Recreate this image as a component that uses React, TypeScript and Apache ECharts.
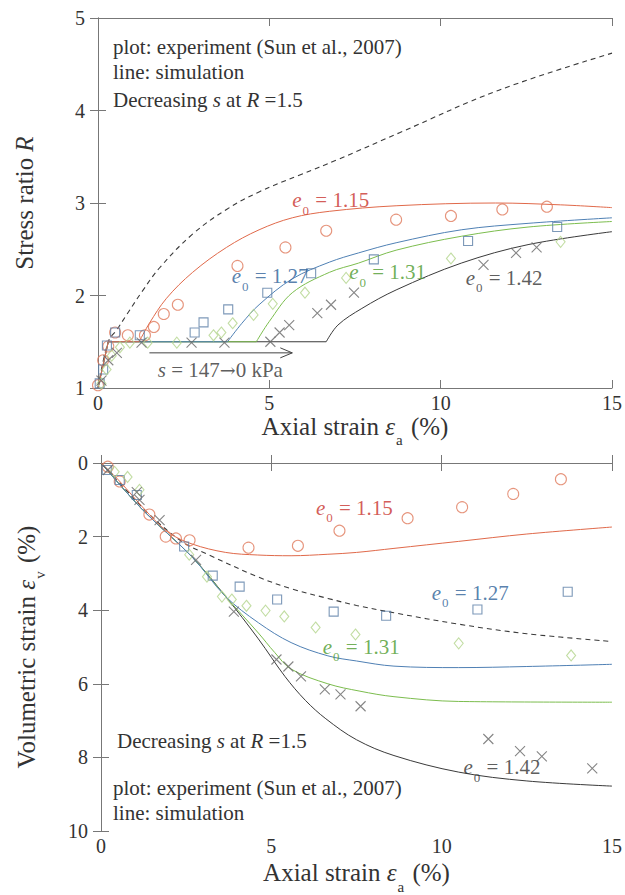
import React, { useEffect, useRef } from 'react';
import * as echarts from 'echarts';

const FONT = '"Liberation Serif", "Times New Roman", serif';
const TXT = '#333333';
const AXIS = '#777777';

const RED = '#e0694a';
const RED_MK = '#e07b5c';
const RED_TX = '#c8322c';
const BLUE = '#4f80b4';
const BLUE_MK = '#5b7ea6';
const BLUE_TX = '#2e5f98';
const GREEN = '#7cbd4e';
const GREEN_MK = '#b3d58c';
const GREEN_TX = '#4c9a2c';
const BLACK = '#3a3a3a';
const BLACK_MK = '#666666';

// ---------- Top chart: stress ratio R vs axial strain ----------
const rSimDashed = [[0, 1], [0.3, 1.5], [0.55, 1.63], [0.85, 1.8], [1.3, 2.05], [1.8, 2.3], [2.75, 2.66], [3.75, 2.93], [4.7, 3.12], [5.87, 3.3], [7.0, 3.47], [8.8, 3.76], [11.7, 4.22], [15, 4.62]];
// simulations: loading to R=1.5, suction decrease at constant R (flat), then shearing (rise)
const rSim115Flat = [[0, 1], [0.3, 1.5], [1.2, 1.5]];
const rSim115Rise = [[1.2, 1.5], [1.5, 1.7], [2.0, 1.97], [2.76, 2.25], [3.75, 2.52], [4.7, 2.71], [5.67, 2.84], [6.75, 2.91], [8.7, 2.97], [11.6, 3.0], [13.5, 2.98], [15, 2.95]];
const rSim127Flat = [[0, 1], [0.3, 1.5], [3.78, 1.5]];
const rSim127Rise = [[3.78, 1.5], [4.2, 1.7], [4.7, 1.9], [5.67, 2.18], [6.75, 2.36], [7.6, 2.46], [8.7, 2.57], [10.6, 2.71], [12.55, 2.78], [15, 2.84]];
const rSim131Flat = [[0, 1], [0.3, 1.5], [4.62, 1.5]];
const rSim131Rise = [[4.62, 1.5], [5.0, 1.72], [5.67, 2.03], [6.75, 2.25], [7.6, 2.35], [8.7, 2.49], [10.6, 2.64], [12.55, 2.74], [15, 2.8]];
const rSim142Flat = [[0, 1], [0.3, 1.5], [6.66, 1.5]];
const rSim142Rise = [[6.66, 1.5], [7.0, 1.68], [7.7, 1.86], [8.7, 2.06], [10.6, 2.35], [12.55, 2.55], [15, 2.69]];

const rExp115 = [[0, 1.03], [0.15, 1.3], [0.3, 1.45], [0.5, 1.6], [0.87, 1.57], [1.37, 1.57], [1.63, 1.66], [1.92, 1.8], [2.33, 1.9], [4.07, 2.32], [5.47, 2.52], [6.66, 2.7], [8.7, 2.82], [10.3, 2.86], [11.8, 2.93], [13.1, 2.96]];
const rExp127 = [[0.05, 1.05], [0.15, 1.2], [0.26, 1.46], [0.5, 1.6], [1.22, 1.57], [2.82, 1.6], [3.08, 1.71], [3.8, 1.85], [4.94, 2.03], [6.22, 2.24], [8.05, 2.39], [10.8, 2.59], [13.4, 2.74]];
const rExp131 = [[0.1, 1.05], [0.25, 1.2], [0.4, 1.35], [0.64, 1.44], [0.93, 1.49], [1.45, 1.49], [2.3, 1.49], [3.37, 1.57], [3.6, 1.6], [3.93, 1.7], [4.54, 1.79], [5.1, 1.91], [6.04, 2.03], [7.24, 2.19], [10.3, 2.4], [13.5, 2.58]];
const rExp142 = [[0.1, 1.08], [0.3, 1.3], [0.55, 1.38], [1.27, 1.49], [2.73, 1.49], [3.69, 1.49], [5.03, 1.5], [5.3, 1.6], [5.58, 1.68], [6.4, 1.81], [6.8, 1.9], [7.47, 2.03], [11.25, 2.33], [12.2, 2.46], [12.8, 2.52]];

// ---------- Bottom chart: volumetric strain vs axial strain ----------
const vSimDashed = [[0, 0], [0.7, 0.7], [1.42, 1.4], [2.4, 2.15], [3.17, 2.5], [4.62, 3.1], [5.6, 3.42], [6.66, 3.68], [7.5, 3.87], [8.6, 4.07], [10.5, 4.38], [12.5, 4.64], [15, 4.85]];
const vSim115 = [[0, 0], [0.5, 0.45], [1.42, 1.4], [2.0, 1.9], [2.67, 2.2], [3.66, 2.43], [4.6, 2.5], [5.58, 2.52], [6.66, 2.48], [7.5, 2.43], [8.6, 2.32], [10.5, 2.13], [12.5, 1.93], [15, 1.74]];
const vSim127 = [[0, 0], [1.22, 1.27], [2.67, 2.55], [3.66, 3.63], [4.62, 4.34], [5.58, 4.88], [6.66, 5.24], [7.5, 5.38], [8.6, 5.52], [10.5, 5.56], [12.5, 5.53], [15, 5.47]];
const vSim131 = [[0, 0], [1.22, 1.27], [2.67, 2.55], [3.66, 3.63], [4.62, 4.62], [5.1, 5.15], [5.58, 5.6], [6.66, 6.0], [7.6, 6.2], [8.6, 6.35], [10.5, 6.48], [15, 6.5]];
const vSim142 = [[0, 0], [1.22, 1.27], [2.67, 2.55], [3.66, 3.63], [4.62, 4.78], [5.4, 5.8], [6.0, 6.45], [6.6, 6.95], [7.5, 7.52], [8.6, 7.95], [10.5, 8.4], [12.5, 8.64], [15, 8.78]];

const vExp115 = [[0.2, 0.1], [0.55, 0.5], [1.42, 1.4], [1.9, 2.0], [2.2, 2.05], [2.6, 2.1], [4.33, 2.3], [5.78, 2.25], [7.0, 1.84], [9.0, 1.5], [10.6, 1.2], [12.1, 0.84], [13.5, 0.44]];
const vExp127 = [[0.17, 0.19], [0.55, 0.46], [1.05, 0.87], [2.44, 2.27], [3.28, 3.06], [4.07, 3.36], [5.17, 3.71], [6.83, 4.04], [8.37, 4.15], [11.05, 3.98], [13.7, 3.5]];
const vExp131 = [[0.4, 0.24], [0.78, 0.38], [1.13, 0.73], [2.59, 2.49], [3.11, 3.09], [3.55, 3.63], [3.84, 3.71], [4.27, 3.88], [4.83, 4.01], [5.38, 4.17], [6.3, 4.47], [7.47, 4.66], [10.5, 4.9], [13.8, 5.23]];
const vExp142 = [[0.2, 0.19], [1.05, 0.79], [1.13, 1.0], [1.72, 1.55], [2.79, 2.63], [3.9, 4.04], [5.15, 5.34], [5.5, 5.53], [5.87, 5.8], [6.57, 6.15], [7.03, 6.29], [7.62, 6.61], [11.37, 7.5], [12.3, 7.83], [12.94, 7.97], [14.42, 8.3]];

// label anchor points (data coords) and texts
const topLabels = [
  { pos: [5.67, 3.03], text: '1.15', color: RED_TX },
  { pos: [3.9, 2.21], text: '1.27', color: BLUE_TX },
  { pos: [7.33, 2.25], text: '1.31', color: GREEN_TX },
  { pos: [10.73, 2.19], text: '1.42', color: TXT },
];
const bottomLabels = [
  { pos: [6.31, 1.22], text: '1.15', color: RED_TX },
  { pos: [9.71, 3.52], text: '1.27', color: BLUE_TX },
  { pos: [6.51, 4.99], text: '1.31', color: GREEN_TX },
  { pos: [10.64, 8.27], text: '1.42', color: TXT },
];
const arrowFrom = [1.5, 1.38];
const arrowTo = [5.67, 1.38];
const arrowText = [3.57, 1.19];

const xTicks = { min: 0, max: 15, interval: 5 };

const CROSS = 'path://M0,0L10,10M10,0L0,10';

function lineS(data: number[][], color: string, xi: number, yi: number, dashed = false, smooth: any = 0.35) {
  return {
    type: 'line', data, xAxisIndex: xi, yAxisIndex: yi, symbol: 'none', smooth,
    lineStyle: { color, width: dashed ? 1.1 : 1, type: dashed ? [5, 4] : 'solid' }, z: 3, silent: true,
  };
}
function markS(data: number[][], symbol: string, size: any, color: string, xi: number, yi: number) {
  return {
    type: 'scatter', data, xAxisIndex: xi, yAxisIndex: yi, symbol, symbolSize: size,
    itemStyle: { color: 'none', borderColor: color, borderWidth: 1.1 }, z: 4, silent: true,
  };
}
function labelS(items: any[], xi: number, yi: number) {
  return items.map((it) => ({
    type: 'scatter', xAxisIndex: xi, yAxisIndex: yi, symbolSize: 0, silent: true, z: 5,
    data: [it.pos],
    label: {
      show: true, position: 'right', distance: 0,
      formatter: `{e|e}{s|0}{t| = ${it.text}}`,
      rich: {
        e: { fontFamily: FONT, fontStyle: 'italic', fontSize: 21, color: it.color },
        s: { fontFamily: FONT, fontSize: 13, color: it.color, padding: [20, 1, 0, 1] },
        t: { fontFamily: FONT, fontSize: 21, color: it.color },
      },
    },
  }));
}

function xAxis(grid: number, mirror: boolean, gap: number) {
  return {
    type: 'value', gridIndex: grid, position: mirror ? 'top' : 'bottom', ...xTicks,
    axisLine: { show: true, lineStyle: { color: AXIS, width: 1 } },
    axisTick: { show: true, inside: true, length: 8, lineStyle: { color: AXIS } },
    axisLabel: { show: !mirror, margin: 5, fontFamily: FONT, fontSize: 20, color: TXT },
    splitLine: { show: false },
    ...(mirror ? {} : {
      name: 'Axial strain {i|ε}{s|a} (%)', nameLocation: 'middle', nameGap: gap,
      nameTextStyle: {
        fontFamily: FONT, fontSize: 25, color: TXT,
        rich: {
          i: { fontFamily: FONT, fontStyle: 'italic', fontSize: 25, color: TXT },
          s: { fontFamily: FONT, fontSize: 15, color: TXT, padding: [28, 2, 0, 1] },
        },
      },
    }),
  };
}
function yAxis(grid: number, mirror: boolean, extra: any) {
  return {
    type: 'value', gridIndex: grid, position: mirror ? 'right' : 'left',
    axisLine: { show: true, lineStyle: { color: AXIS, width: 1 } },
    axisTick: { show: true, inside: true, length: 8, lineStyle: { color: AXIS } },
    axisLabel: { show: !mirror, margin: 13, fontFamily: FONT, fontSize: 20, color: TXT },
    splitLine: { show: false },
    ...extra,
    ...(mirror ? { name: '' } : {}),
  };
}

const topYName = {
  name: 'Stress ratio {i|R}', nameLocation: 'middle', nameGap: 61,
  nameTextStyle: {
    fontFamily: FONT, fontSize: 25, color: TXT,
    rich: { i: { fontFamily: FONT, fontStyle: 'italic', fontSize: 25, color: TXT } },
  },
};
const botYName = {
  name: 'Volumetric strain {i|ε}{s|v} (%)', nameLocation: 'middle', nameGap: 54,
  nameTextStyle: {
    fontFamily: FONT, fontSize: 25, color: TXT,
    rich: {
      i: { fontFamily: FONT, fontStyle: 'italic', fontSize: 25, color: TXT },
      s: { fontFamily: FONT, fontSize: 15, color: TXT, padding: [26, 2, 0, 1] },
    },
  },
};

const richNote = {
  n: { fontFamily: FONT, fontSize: 21, fill: TXT, color: TXT },
  i: { fontFamily: FONT, fontSize: 21, fontStyle: 'italic', fill: TXT, color: TXT },
};
function note(left: number, top: number, text: string) {
  return { type: 'text', left, top, silent: true, style: { text, rich: richNote, fontFamily: FONT, fontSize: 21, fill: TXT } };
}

export default function App() {
  const ref = useRef<HTMLDivElement>(null);
  useEffect(() => {
    const chart = echarts.init(ref.current!, null, { renderer: 'svg' });
    const topY = { min: 1, max: 5, interval: 1 };
    const botY = { min: 0, max: 10, interval: 2, inverse: true };
    const option: any = {
      animation: false,
      backgroundColor: '#ffffff',
      grid: [
        { left: 98, top: 18, width: 515, height: 370 },
        { left: 101, top: 463, width: 516, height: 369 },
      ],
      xAxis: [xAxis(0, false, 9), xAxis(0, true, 0), xAxis(1, false, 20), xAxis(1, true, 0)],
      yAxis: [
        yAxis(0, false, { ...topY, ...topYName }),
        yAxis(0, true, topY),
        yAxis(1, false, { ...botY, ...botYName }),
        yAxis(1, true, botY),
      ],
      series: [
        lineS(rSimDashed, BLACK, 0, 0, true, 0.4),
        lineS(rSim142Flat, BLACK, 0, 0, false, false),
        lineS(rSim142Rise, BLACK, 0, 0),
        lineS(rSim131Flat, GREEN, 0, 0, false, false),
        lineS(rSim131Rise, GREEN, 0, 0),
        lineS(rSim127Flat, BLUE, 0, 0, false, false),
        lineS(rSim127Rise, BLUE, 0, 0),
        lineS(rSim115Flat, RED, 0, 0, false, false),
        lineS(rSim115Rise, RED, 0, 0),
        markS(rExp115, 'circle', 11, RED_MK, 0, 0),
        markS(rExp127, 'rect', 9, BLUE_MK, 0, 0),
        markS(rExp131, 'diamond', [9, 11], GREEN_MK, 0, 0),
        markS(rExp142, CROSS, 10, BLACK_MK, 0, 0),
        ...labelS(topLabels, 0, 0),
        {
          type: 'scatter', xAxisIndex: 0, yAxisIndex: 0, symbolSize: 0, silent: true, data: [arrowText],
          label: {
            show: true, position: 'inside', formatter: '{i|s}{n| = 147}{a|→}{n|0 kPa}',
            rich: {
              i: { fontFamily: FONT, fontSize: 21, fontStyle: 'italic', color: TXT },
              n: { fontFamily: FONT, fontSize: 21, color: TXT },
              a: { fontFamily: '"DejaVu Serif", serif', fontSize: 19, color: TXT },
            },
          },
        },
        lineS(vSimDashed, BLACK, 2, 2, true),
        lineS(vSim142, BLACK, 2, 2),
        lineS(vSim131, GREEN, 2, 2),
        lineS(vSim127, BLUE, 2, 2),
        lineS(vSim115, RED, 2, 2),
        markS(vExp115, 'circle', 11, RED_MK, 2, 2),
        markS(vExp127, 'rect', 9, BLUE_MK, 2, 2),
        markS(vExp131, 'diamond', [9, 11], GREEN_MK, 2, 2),
        markS(vExp142, CROSS, 10, BLACK_MK, 2, 2),
        ...labelS(bottomLabels, 2, 2),
      ],
    };
    chart.setOption(option);

    const a = chart.convertToPixel({ xAxisIndex: 0, yAxisIndex: 0 }, arrowFrom) as number[];
    const b = chart.convertToPixel({ xAxisIndex: 0, yAxisIndex: 0 }, arrowTo) as number[];
    chart.setOption({
      graphic: [
        note(113, 36, 'plot: experiment (Sun et al., 2007)'),
        note(113, 61, 'line: simulation'),
        note(113, 89, '{n|Decreasing }{i|s}{n| at }{i|R}{n| =1.5}'),
        note(117, 730, '{n|Decreasing }{i|s}{n| at }{i|R}{n| =1.5}'),
        note(113, 777, 'plot: experiment (Sun et al., 2007)'),
        note(113, 802, 'line: simulation'),
        { type: 'line', silent: true, shape: { x1: a[0], y1: a[1], x2: b[0], y2: b[1] }, style: { stroke: '#444', lineWidth: 1 } },
        {
          type: 'polyline', silent: true,
          shape: { points: [[b[0] - 12, b[1] - 5], [b[0], b[1]], [b[0] - 12, b[1] + 5]] },
          style: { stroke: '#444', lineWidth: 1, fill: 'none' },
        },
      ],
    });
    return () => chart.dispose();
  }, []);
  return <div ref={ref} style={{ position: 'absolute', left: 0, top: 0, width: 625, height: 895, background: '#fff' }} />;
}
